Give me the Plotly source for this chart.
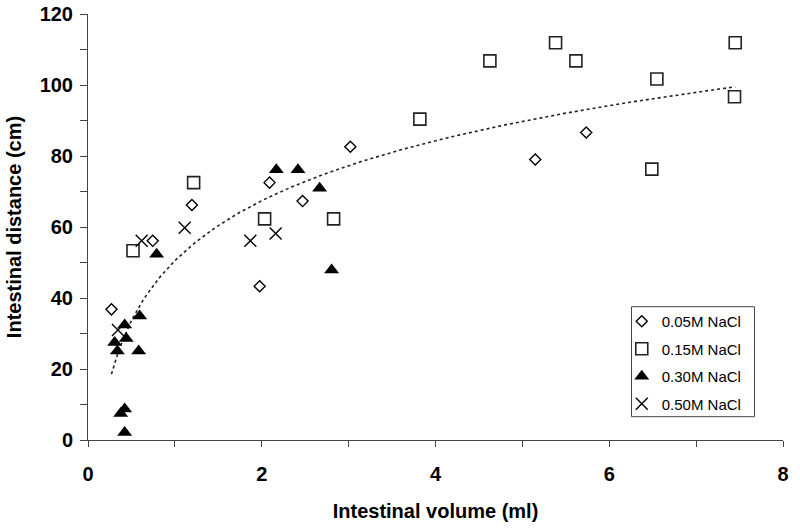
import numpy as np
import plotly.graph_objects as go

# 0.05M NaCl (diamonds)
x_005 = [0.27, 0.745, 1.196, 1.976, 2.09, 2.47, 3.02, 5.148, 5.735]
y_005 = [36.8, 56.1, 66.2, 43.3, 72.5, 67.3, 82.6, 79.0, 86.6]

# 0.15M NaCl (squares)
x_015 = [0.518, 1.216, 2.033, 2.827, 3.82, 4.626, 5.382, 5.616, 6.548, 7.45, 7.442, 6.49]
y_015 = [53.3, 72.5, 62.3, 62.3, 90.4, 106.8, 111.9, 106.8, 101.7, 111.9, 96.7, 76.3]

# 0.30M NaCl (filled triangles)
x_030 = [2.168, 2.417, 2.666, 0.79, 2.804, 0.595, 0.422, 0.44, 0.307, 0.338, 0.583, 0.422, 0.376, 0.422]
y_030 = [76.1, 76.1, 70.9, 52.3, 47.9, 34.9, 32.4, 28.6, 27.5, 25.1, 25.1, 8.7, 7.5, 2.1]

# 0.50M NaCl (crosses)
x_050 = [0.618, 1.113, 0.345, 1.869, 2.16]
y_050 = [56.1, 59.8, 31.0, 56.1, 58.2]

series_names = ["0.05M NaCl", "0.15M NaCl", "0.30M NaCl", "0.50M NaCl"]
x_ticks = [0, 2, 4, 6, 8]
y_ticks = [0, 20, 40, 60, 80, 100, 120]

FONT = "Arial, Liberation Sans, sans-serif"
AX = "#444444"

fig = go.Figure()

# logarithmic trendline fitted to all points (Excel-style)
all_x = np.array(x_005 + x_015 + x_030 + x_050)
all_y = np.array(y_005 + y_015 + y_030 + y_050)
a, b = np.polyfit(np.log(all_x), all_y, 1)
tx = np.linspace(all_x.min(), all_x.max(), 200)
fig.add_trace(go.Scatter(x=tx, y=a * np.log(tx) + b, mode="lines",
                         line=dict(color="#222222", width=1.6, dash="dot"),
                         showlegend=False, hoverinfo="skip"))

fig.add_trace(go.Scatter(x=x_005, y=y_005, mode="markers", name=series_names[0],
                         legendgroup="a",
                         marker=dict(symbol="diamond-open", size=8.5, color="black",
                                     line=dict(width=1.4, color="black"))))
fig.add_trace(go.Scatter(x=x_015, y=y_015, mode="markers", name=series_names[1],
                         legendgroup="b",
                         marker=dict(symbol="square-open", size=12, color="#222222",
                                     line=dict(width=1.6, color="#222222"))))
fig.add_trace(go.Scatter(x=x_030, y=y_030, mode="markers", name=series_names[2],
                         legendgroup="c",
                         marker=dict(symbol="triangle-up", size=13, color="black",
                                     line=dict(width=0))))
fig.add_trace(go.Scatter(x=x_050, y=y_050, mode="markers", name=series_names[3],
                         legendgroup="d",
                         marker=dict(symbol="x-thin-open", size=12, color="black",
                                     line=dict(width=1.4, color="black"))))

# legend frame
fig.add_shape(type="rect", xref="paper", yref="paper",
              x0=0.782, x1=0.959, y0=0.0547, y1=0.3129,
              line=dict(color=AX, width=1), fillcolor="rgba(0,0,0,0)", layer="above")

fig.update_layout(
    width=800, height=531,
    margin=dict(l=88, r=17, t=14, b=91),
    paper_bgcolor="white", plot_bgcolor="white",
    font=dict(family=FONT, color="black"),
    legend=dict(x=0.768, y=0.317, xanchor="left", yanchor="top",
                borderwidth=0, bgcolor="rgba(0,0,0,0)",
                font=dict(family=FONT, size=15, color="black"),
                tracegroupgap=5, itemwidth=30),
    xaxis=dict(range=[0, 8], tickvals=x_ticks, ticks="outside", ticklen=6,
               tickcolor=AX, tickwidth=1, showline=True, linecolor=AX, linewidth=1,
               showgrid=False, zeroline=False, automargin=False, ticklabelstandoff=10,
               ticklabeloverflow="allow",
               minor=dict(dtick=1, ticks="outside", ticklen=6, tickcolor=AX, tickwidth=1),
               tickfont=dict(family=FONT, size=20, color="black", weight="bold"),
               title=dict(text="<b>Intestinal volume (ml)</b>", font=dict(size=20), standoff=19)),
    yaxis=dict(range=[0, 120], tickvals=y_ticks, ticks="outside", ticklen=7,
               tickcolor=AX, tickwidth=1, showline=True, linecolor=AX, linewidth=1,
               showgrid=False, zeroline=False, automargin=False, ticklabelstandoff=3,
               ticklabeloverflow="allow",
               minor=dict(dtick=10, ticks="outside", ticklen=7, tickcolor=AX, tickwidth=1),
               tickfont=dict(family=FONT, size=20, color="black", weight="bold"),
               title=dict(text="<b>Intestinal distance (cm)</b>", font=dict(size=20), standoff=12)),
)

fig.write_html("out.html", config={"displayModeBar": False},
               post_script="document.body.style.margin='0';")
